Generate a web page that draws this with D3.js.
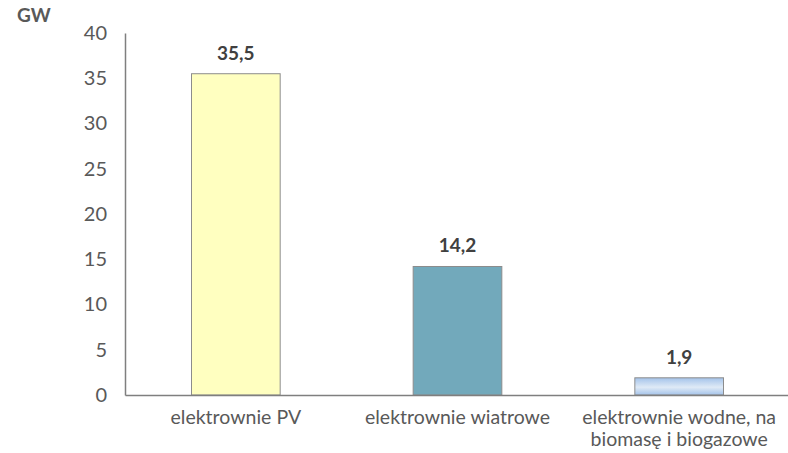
<!DOCTYPE html>
<html>
<head>
<meta charset="utf-8">
<script src="https://cdn.jsdelivr.net/npm/d3@7"></script>
<style>
  html, body { margin: 0; padding: 0; background: #fff; }
  svg { display: block; font-family: Lato, "Open Sans", sans-serif; }
</style>
</head>
<body>
<svg id="chart" width="788" height="453"></svg>
<script>
// Installed capacity by plant type, GW
const categories = [
  ["elektrownie PV"],
  ["elektrownie wiatrowe"],
  ["elektrownie wodne, na", "biomasę i biogazowe"]
];
const values = [35.5, 14.2, 1.9];
const valueLabels = ["35,5", "14,2", "1,9"];
const yTicks = [0, 5, 10, 15, 20, 25, 30, 35, 40];
const unitLabel = "GW";

const svg = d3.select("#chart");
const margin = { left: 125, right: -2, top: 33, bottom: 58 };
const W = 788, H = 453;

const x = d3.scaleBand()
  .domain(d3.range(categories.length))
  .range([margin.left, W - margin.right])
  .paddingInner(0.6)
  .paddingOuter(0.3);

const y = d3.scaleLinear()
  .domain([0, 40])
  .range([H - margin.bottom, margin.top]);

// Gradient for the third bar
const defs = svg.append("defs");
const grad = defs.append("linearGradient")
  .attr("id", "blueGrad").attr("x1", 0).attr("y1", 0).attr("x2", 0).attr("y2", 1);
grad.append("stop").attr("offset", "0%").attr("stop-color", "#a4c3ea");
grad.append("stop").attr("offset", "55%").attr("stop-color", "#dfeaf6");
grad.append("stop").attr("offset", "100%").attr("stop-color", "#a4c3ea");

const fills = ["#ffffc0", "#72a9bb", "url(#blueGrad)"];

// Bars
svg.append("g").selectAll("rect")
  .data(values)
  .join("rect")
  .attr("x", (d, i) => x(i))
  .attr("y", d => y(d))
  .attr("width", x.bandwidth())
  .attr("height", d => y(0) - y(d))
  .attr("fill", (d, i) => fills[i])
  .attr("stroke", "#8c8c8c")
  .attr("stroke-width", 1);

// Y axis
const yAxis = svg.append("g")
  .attr("transform", `translate(${margin.left},0)`)
  .call(d3.axisLeft(y).tickValues(yTicks).tickSize(0).tickPadding(18));
yAxis.select(".domain").attr("stroke", "#7f7f7f").attr("stroke-width", 1.5);
yAxis.selectAll("text")
  .attr("fill", "#595959")
  .style("font-size", "20px")
  .style("font-family", "Lato, sans-serif");

// X axis
const xAxis = svg.append("g")
  .attr("transform", `translate(0,${y(0)})`)
  .call(d3.axisBottom(x).tickSize(0).tickFormat(""));
xAxis.select(".domain").attr("stroke", "#7f7f7f").attr("stroke-width", 1.5);

// Category labels (multi-line)
const catG = svg.append("g");
categories.forEach((lines, i) => {
  const cx = x(i) + x.bandwidth() / 2;
  const t = catG.append("text")
    .attr("x", cx)
    .attr("y", y(0) + 29)
    .attr("text-anchor", "middle")
    .attr("fill", "#595959")
    .style("font-size", "19.5px");
  lines.forEach((ln, j) => {
    t.append("tspan")
      .attr("x", cx)
      .attr("dy", j === 0 ? 0 : 22)
      .text(ln);
  });
});

// Value labels
svg.append("g").selectAll("text")
  .data(values)
  .join("text")
  .attr("x", (d, i) => x(i) + x.bandwidth() / 2)
  .attr("y", d => y(d) - 14)
  .attr("text-anchor", "middle")
  .attr("fill", "#404040")
  .style("font-size", "19px")
  .style("font-weight", "bold")
  .text((d, i) => valueLabels[i]);

// Unit label
svg.append("text")
  .attr("x", 17)
  .attr("y", 22)
  .attr("fill", "#595959")
  .style("font-size", "19px")
  .style("font-weight", "bold")
  .text(unitLabel);
</script>
</body>
</html>
